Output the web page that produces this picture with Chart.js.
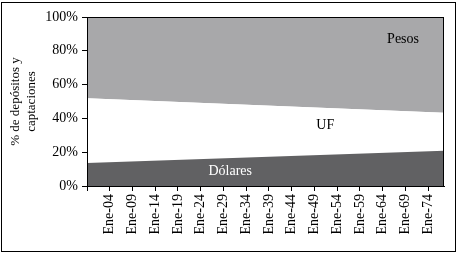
<!DOCTYPE html>
<html>
<head>
<meta charset="utf-8">
<script src="https://cdn.jsdelivr.net/npm/chart.js@4"></script>
<style>
  html, body { margin: 0; padding: 0; background: #fff; }
  #wrap { position: relative; width: 457px; height: 255px; }
  #frame { position: absolute; left: 1px; top: 2px; width: 453px; height: 248px; border: 1px solid #000; pointer-events: none; }
</style>
</head>
<body>
<div id="wrap">
  <canvas id="chart" width="457" height="255"></canvas>
  <div id="frame"></div>
</div>
<script>
/* data: shares at the start and the end of the series (% of deposits) */
const years    = [1999, 2077.5];
const dolares  = [13.6, 20.9];
const uf       = [38.3, 22.5];
const pesos    = [48.1, 56.6];

const tickYears = [1999, 2004, 2009, 2014, 2019, 2024, 2029, 2034, 2039, 2044, 2049, 2054, 2059, 2064, 2069, 2074];

const seriesLabels = [
  { text: 'Pesos',   x: 2068.5, y: 86.5, color: '#000' },
  { text: 'UF',      x: 2051.4, y: 36,   color: '#000' },
  { text: 'Dólares', x: 2030.5, y: 8.8,  color: '#fff' },
];

const FONT = "'Times New Roman', 'Liberation Serif', serif";

function pts(vals) {
  return vals.map((v, i) => ({ x: years[i], y: v }));
}

/* ── plot frame + area labels ── */
const decor = {
  id: 'decor',
  afterDatasetsDraw(chart) {
    const { ctx, chartArea: a, scales } = chart;
    ctx.save();
    ctx.strokeStyle = '#000';
    ctx.lineWidth = 1;
    ctx.strokeRect(a.left + 0.5, a.top + 0.5, a.right - a.left - 1, a.bottom - a.top);
    ctx.font = '14px ' + FONT;
    ctx.textAlign = 'center';
    ctx.textBaseline = 'middle';
    seriesLabels.forEach(l => {
      ctx.fillStyle = l.color;
      ctx.fillText(l.text, scales.x.getPixelForValue(l.x), scales.y.getPixelForValue(l.y));
    });
    ctx.restore();
  },
};

new Chart(document.getElementById('chart'), {
  type: 'line',
  data: {
    datasets: [
      { label: 'Dólares', data: pts(dolares), backgroundColor: '#616163', fill: 'origin' },
      { label: 'UF',      data: pts(uf),      backgroundColor: '#ffffff', fill: '-1' },
      { label: 'Pesos',   data: pts(pesos),   backgroundColor: '#a8a8aa', fill: '-1' },
    ],
  },
  options: {
    responsive: false,
    animation: false,
    elements: {
      point: { radius: 0 },
      line: { borderWidth: 0, tension: 0 },
    },
    layout: { padding: { top: 17, right: 13, left: 0, bottom: 0 } },
    plugins: { legend: { display: false }, tooltip: { enabled: false } },
    scales: {
      x: {
        type: 'linear',
        min: years[0],
        max: years[1],
        afterBuildTicks: s => { s.ticks = tickYears.map(v => ({ value: v })); },
        afterFit: s => { s.height = 69; },
        grid: { drawOnChartArea: false, color: '#000', tickLength: 5 },
        border: { color: '#000', width: 1 },
        ticks: {
          autoSkip: false,
          minRotation: 90,
          maxRotation: 90,
          padding: 3,
          color: '#000',
          font: { size: 14, family: FONT },
          callback: v => v === 1999 ? '' : 'Ene-' + String(v % 100).padStart(2, '0'),
        },
      },
      y: {
        stacked: true,
        min: 0,
        max: 100,
        afterFit: s => { s.width = 87; },
        grid: { drawOnChartArea: false, color: '#000', tickLength: 5 },
        border: { color: '#000', width: 1 },
        ticks: {
          stepSize: 20,
          padding: 4,
          color: '#000',
          font: { size: 14, family: FONT },
          callback: v => v + '%',
        },
        title: {
          display: true,
          text: ['% de depósitos y', 'captaciones'],
          color: '#000',
          font: { size: 13, family: FONT },
          padding: { top: 8, bottom: 0 },
        },
      },
    },
  },
  plugins: [decor],
});
</script>
</body>
</html>
